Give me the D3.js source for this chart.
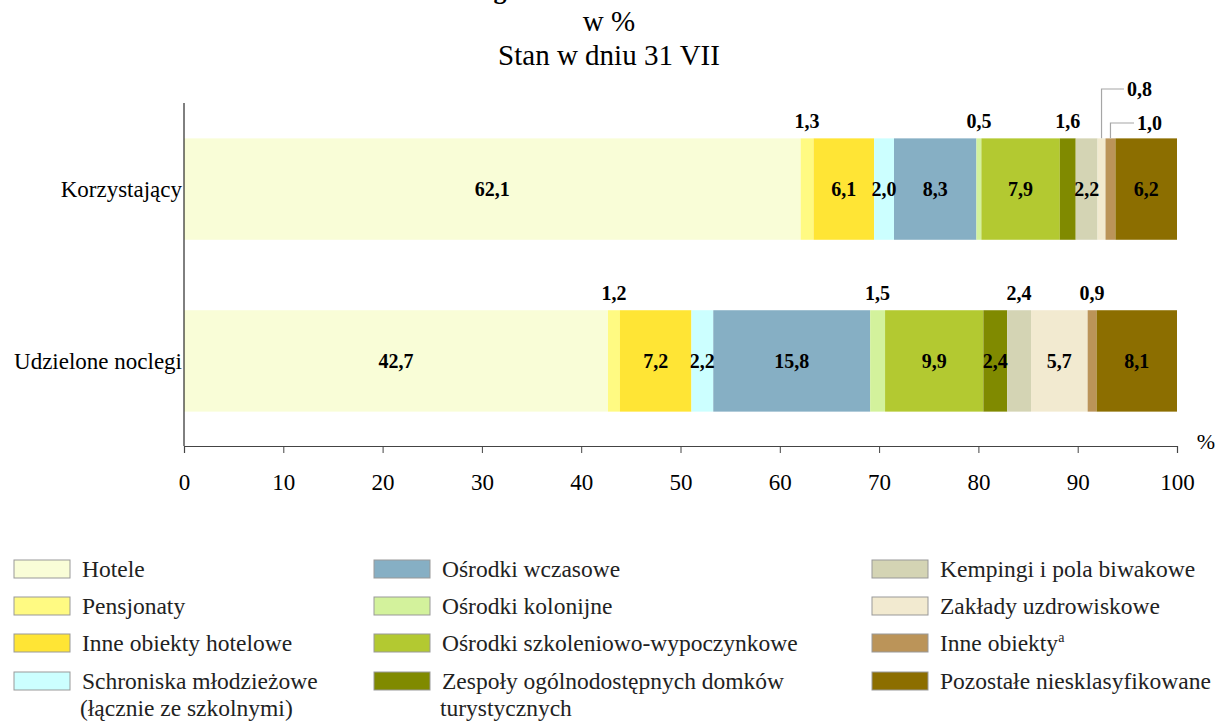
<!DOCTYPE html>
<html>
<head>
<meta charset="utf-8">
<script src="https://cdn.jsdelivr.net/npm/d3@7"></script>
<style>
  body { margin: 0; background: #fff; }
  svg { font-family: "Liberation Serif", "Times New Roman", serif; }
</style>
</head>
<body>
<script>
// data
const rows = ["Korzystający", "Udzielone noclegi"]
const types = ["Hotele", "Pensjonaty", "Inne obiekty hotelowe", "Schroniska młodzieżowe", "Ośrodki wczasowe",
  "Ośrodki kolonijne", "Ośrodki szkoleniowo-wypoczynkowe", "Zespoły ogólnodostępnych domków turystycznych",
  "Kempingi i pola biwakowe", "Zakłady uzdrowiskowe", "Inne obiekty", "Pozostałe niesklasyfikowane"]
const korzystajacy = [62.1, 1.3, 6.1, 2.0, 8.3, 0.5, 7.9, 1.6, 2.2, 0.8, 1.0, 6.2]
const noclegi = [42.7, 1.2, 7.2, 2.2, 15.8, 1.5, 9.9, 2.4, 2.4, 5.7, 0.9, 8.1]
const colors = ["#f9fdd7", "#fffa82", "#ffe535", "#ccffff", "#86afc4", "#d3f29c",
  "#b3c931", "#808a00", "#d4d4b4", "#f2ead0", "#bb9459", "#8c6e00"]
const ticks = [0, 10, 20, 30, 40, 50, 60, 70, 80, 90, 100]
// how each value is labelled: "in", "up" (above bar) or "lead" (leader line)
const placeK = ["in", "up", "in", "in", "in", "up", "in", "up", "in", "lead", "lead", "in"]
const placeN = ["in", "up", "in", "in", "in", "up", "in", "in", "up", "in", "up", "in"]

const legendItems = [
  ["Hotele"], ["Pensjonaty"], ["Inne obiekty hotelowe"], ["Schroniska młodzieżowe", "(łącznie ze szkolnymi)"],
  ["Ośrodki wczasowe"], ["Ośrodki kolonijne"], ["Ośrodki szkoleniowo-wypoczynkowe"],
  ["Zespoły ogólnodostępnych domków", "turystycznych"],
  ["Kempingi i pola biwakowe"], ["Zakłady uzdrowiskowe"], ["Inne obiekty"], ["Pozostałe niesklasyfikowane"]
]

const W = 1218, H = 721
const svg = d3.select("body").append("svg").attr("width", W).attr("height", H)

const x = d3.scaleLinear().domain([0, 100]).range([184, 1177])
const y = d3.scaleBand().domain(rows).range([104, 446]).paddingInner(0.41).paddingOuter(0.2)

const fmt = v => d3.format(".1f")(v).replace(".", ",")

// title (first line is cut off at the top, as in the original)
svg.append("text").attr("x", 318).attr("y", -1).attr("font-size", 26).attr("font-weight", "bold")
  .text("Struktura noclegów")
svg.append("text").attr("x", 609).attr("y", 31).attr("text-anchor", "middle").attr("font-size", 29).text("w %")
svg.append("text").attr("x", 609).attr("y", 65).attr("text-anchor", "middle").attr("font-size", 29).text("Stan w dniu 31 VII")

// stacked bars
const series = [korzystajacy, noclegi]
const places = [placeK, placeN]
series.forEach((vals, r) => {
  let acc = 0
  const segs = vals.map((v, i) => { const s = {i, v, x0: acc, x1: acc + v}; acc += v; return s })
  const g = svg.append("g")
  const by = y(rows[r]), bh = y.bandwidth()
  g.selectAll("rect").data(segs).enter().append("rect")
    .attr("x", d => x(d.x0)).attr("width", d => x(d.x1) - x(d.x0))
    .attr("y", by).attr("height", bh)
    .attr("fill", d => colors[d.i])

  let leadN = 0
  segs.forEach(d => {
    const cx = x((d.x0 + d.x1) / 2)
    const p = places[r][d.i]
    if (p == "in") {
      g.append("text").attr("x", cx).attr("y", by + bh / 2 + 7).attr("text-anchor", "middle")
        .attr("font-size", 20).attr("font-weight", "bold").text(fmt(d.v))
    } else if (p == "up") {
      g.append("text").attr("x", cx).attr("y", by - 10).attr("text-anchor", "middle")
        .attr("font-size", 20).attr("font-weight", "bold").text(fmt(d.v))
    } else {
      const ly = leadN == 0 ? 89 : 123
      const lx = leadN == 0 ? 1124 : 1134
      g.append("path").attr("d", `M${cx},${by}V${ly}H${lx}`)
        .attr("fill", "none").attr("stroke", "#a6a6a6").attr("stroke-width", 1.2)
      g.append("text").attr("x", lx + 3).attr("y", ly + 7)
        .attr("font-size", 20).attr("font-weight", "bold").text(fmt(d.v))
      leadN++
    }
  })
})

// axes
svg.append("line").attr("x1", 184).attr("x2", 184).attr("y1", 103).attr("y2", 446).attr("stroke", "#000")
const xa = svg.append("g").attr("transform", "translate(0,446)")
  .call(d3.axisBottom(x).tickValues(ticks).tickSize(7).tickFormat(d3.format("d")))
xa.select(".domain").attr("stroke", "#444").attr("stroke-width", 1.2)
xa.selectAll(".tick line").attr("stroke", "#444")
xa.selectAll(".tick text").attr("font-family", "Liberation Serif").attr("font-size", 23)
  .attr("fill", "#000").attr("dy", 0).attr("y", 44)
svg.append("text").attr("x", 1206).attr("y", 449).attr("text-anchor", "middle").attr("font-size", 22).text("%")

svg.selectAll(".cat").data(rows).enter().append("text")
  .attr("x", 182).attr("y", d => y(d) + y.bandwidth() / 2 + 8)
  .attr("text-anchor", "end").attr("font-size", 23).text(d => d)

// legend
const colX = [14, 374, 872]
const rowY = [569, 606, 643, 681]
legendItems.forEach((lab, i) => {
  const c = Math.floor(i / 4), rr = i % 4
  const lg = svg.append("g")
  lg.append("rect").attr("x", colX[c]).attr("y", rowY[rr] - 9).attr("width", 56).attr("height", 18)
    .attr("fill", colors[i]).attr("stroke", "#999").attr("stroke-width", 1)
  const t = lg.append("text").attr("x", colX[c] + 68).attr("y", rowY[rr] + 8).attr("font-size", 23.5).attr("fill", "#222")
  t.text(lab[0])
  if (lab[0] == "Inne obiekty") t.append("tspan").attr("font-size", 14).attr("dy", -9).text("a")
  if (lab[1]) lg.append("text").attr("x", colX[c] + 66).attr("y", rowY[rr] + 35).attr("font-size", 23.5)
    .attr("fill", "#222").text(lab[1])
})
</script>
</body>
</html>
